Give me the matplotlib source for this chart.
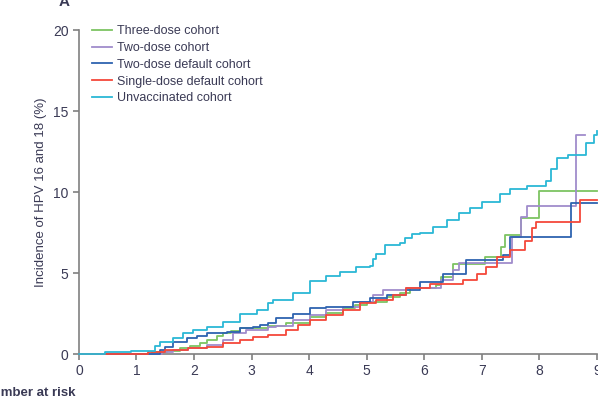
import matplotlib
matplotlib.use("Agg")
import matplotlib.pyplot as plt

plt.rcParams['font.family'] = ['Liberation Sans', 'DejaVu Sans']

# Kaplan-Meier style cumulative incidence (%)
three_t = [0, 1.27, 1.53, 1.75, 1.93, 2.1, 2.22, 2.4, 2.5, 2.65, 2.8, 3.29, 3.6, 4.01, 4.3,
           4.59, 4.8, 5.0, 5.35, 5.58, 5.75, 6.2, 6.3, 6.5, 7.05, 7.33, 7.41, 7.69, 8.0, 9.0]
three_v = [0, 0.1, 0.2, 0.35, 0.49, 0.7, 0.86, 1.1, 1.28, 1.45, 1.6, 1.73, 1.9, 2.3, 2.55,
           2.82, 3.0, 3.23, 3.54, 3.75, 4.06, 4.26, 4.77, 5.55, 6.0, 6.63, 7.35, 8.37, 10.05, 10.05]

two_t = [0, 1.45, 1.64, 1.9, 2.22, 2.5, 2.68, 2.91, 3.29, 3.43, 3.72, 4.01, 4.3, 4.59,
         4.88, 5.11, 5.29, 5.69, 6.3, 6.5, 6.6, 7.53, 7.69, 7.78, 8.63, 8.8]
two_v = [0, 0.14, 0.25, 0.4, 0.55, 0.86, 1.28, 1.48, 1.69, 1.75, 2.1, 2.4, 2.72, 2.92,
         3.23, 3.64, 3.95, 4.05, 4.57, 5.18, 5.6, 7.24, 8.47, 9.14, 13.5, 13.5]

twodef_t = [0, 1.41, 1.5, 1.64, 1.87, 2.05, 2.22, 2.57, 2.8, 3.03, 3.14, 3.29, 3.43, 3.72,
            4.01, 4.3, 4.77, 5.06, 5.35, 5.69, 5.93, 6.33, 6.73, 7.37, 7.49, 8.56, 9.0]
twodef_v = [0, 0.25, 0.41, 0.76, 0.97, 1.12, 1.28, 1.38, 1.6, 1.69, 1.79, 1.9, 2.2, 2.5,
            2.82, 2.92, 3.23, 3.44, 3.64, 3.95, 4.46, 4.97, 5.8, 6.1, 7.24, 9.3, 9.3]

single_t = [0, 1.2, 1.5, 1.9, 2.22, 2.5, 2.8, 3.03, 3.29, 3.6, 3.8, 4.01, 4.3, 4.59,
            4.88, 5.17, 5.46, 5.69, 6.1, 6.68, 6.91, 7.08, 7.26, 7.49, 7.75, 7.87, 7.95,
            8.7, 9.0]
single_v = [0, 0.14, 0.25, 0.35, 0.45, 0.66, 0.86, 1.07, 1.17, 1.48, 1.8, 2.1, 2.4, 2.72,
            3.13, 3.33, 3.64, 4.05, 4.35, 4.57, 4.97, 5.39, 6.0, 6.4, 7.0, 7.76, 8.17,
            9.5, 9.5]

unvacc_t = [0, 0.45, 0.9, 1.32, 1.41, 1.64, 1.81, 1.99, 2.22, 2.5, 2.8, 3.09, 3.29,
            3.38, 3.72, 4.01, 4.3, 4.53, 4.82, 5.06, 5.11, 5.17, 5.32, 5.58, 5.66, 5.78,
            5.92, 6.15, 6.4, 6.6, 6.79, 7.0, 7.31, 7.5, 7.78, 8.12, 8.2, 8.3, 8.5, 8.82,
            8.95, 9.0]
unvacc_v = [0, 0.1, 0.2, 0.49, 0.76, 0.97, 1.28, 1.48, 1.69, 2.0, 2.5, 2.72, 3.17,
            3.33, 3.74, 4.5, 4.8, 5.08, 5.39, 5.43, 5.9, 6.2, 6.73, 6.83, 7.14, 7.4,
            7.49, 7.86, 8.3, 8.7, 9.0, 9.4, 9.9, 10.2, 10.4, 10.7, 11.4, 12.1, 12.3, 13.0,
            13.5, 13.8]

series = [
    ("Three-dose cohort", three_t, three_v, "#7dc462"),
    ("Two-dose cohort", two_t, two_v, "#a08ccc"),
    ("Two-dose default cohort", twodef_t, twodef_v, "#2e63b0"),
    ("Single-dose default cohort", single_t, single_v, "#f4483a"),
    ("Unvaccinated cohort", unvacc_t, unvacc_v, "#2bb8d6"),
]

txt = "#3a3a55"
fig = plt.figure(figsize=(5.98, 4.01), dpi=100)
ax = fig.add_axes([0.132, 0.117, 0.866, 0.808])

for name, t, v, c in series:
    ax.plot(t, v, drawstyle="steps-post", color=c, lw=1.3, label=name,
            zorder=3, clip_on=False)

ax.set_xlim(0, 9)
ax.set_ylim(0, 20)
ax.set_xticks(range(0, 10))
ax.set_yticks([0, 5, 10, 15, 20])
for s in ["top", "right"]:
    ax.spines[s].set_visible(False)
for s in ["left", "bottom"]:
    ax.spines[s].set_color("#808080")
    ax.spines[s].set_linewidth(1.2)
ax.tick_params(direction="out", length=4, width=1.2, color="#808080",
               labelsize=10, labelcolor=txt)
ax.set_ylabel("Incidence of HPV 16 and 18 (%)", fontsize=9.5, color=txt, labelpad=4)

ax.legend(loc="upper left", bbox_to_anchor=(0.015, 1.03), frameon=False,
          fontsize=9, handlelength=1.6, handletextpad=0.45, labelspacing=0.38,
          labelcolor=txt, borderaxespad=0)

fig.text(0.108, 0.995, "A", fontsize=11, fontweight="bold", color=txt,
         ha="center", va="center")
fig.text(0.127, 0.02, "Number at risk", fontsize=9.5, fontweight="bold",
         color=txt, ha="right", va="center")

fig.savefig("out.png", dpi=100)
